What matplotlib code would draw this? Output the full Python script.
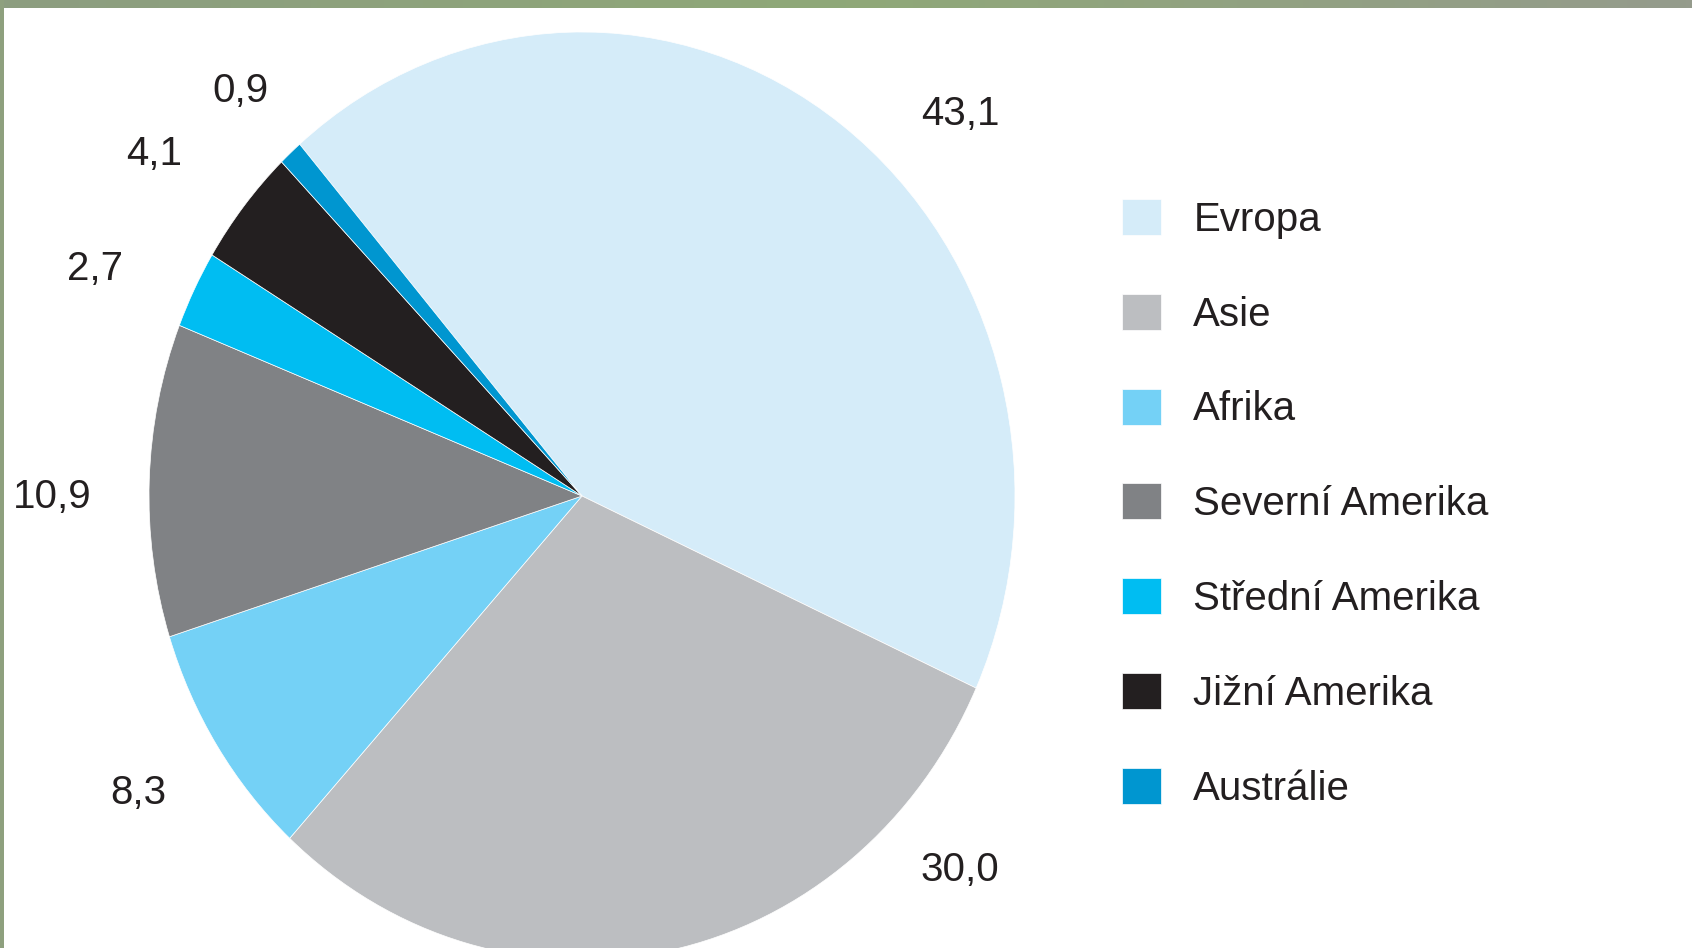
import numpy as np
import matplotlib.pyplot as plt
from matplotlib.patches import Rectangle
from matplotlib.colors import LinearSegmentedColormap

plt.rcParams['font.family'] = ['Liberation Sans', 'DejaVu Sans']

# data
regions = ['Evropa', 'Asie', 'Afrika', 'Severní Amerika', 'Střední Amerika',
           'Jižní Amerika', 'Austrálie']
shares = [43.1, 30.0, 8.3, 10.9, 2.7, 4.1, 0.9]
colors = ['#d5ecf9', '#bcbec1', '#74d1f6', '#808285', '#00bdf2', '#231f20', '#0096d0']

# where the value labels sit (pixels from top-left, baseline)
label_px = [(960, 125), (960, 881), (138, 804), (52, 508), (95, 280), (154, 165), (240, 102)]

W, H = 1692, 948
fig = plt.figure(figsize=(W / 100, H / 100), dpi=100)
fig.patch.set_facecolor('white')

# pie is slightly squeezed horizontally in the original
cx, cy, rx, ry = 582, 496, 433, 464
ax = fig.add_axes([(cx - rx) / W, (H - cy - ry) / H, 2 * rx / W, 2 * ry / H])
wedges, _ = ax.pie(shares, colors=colors, startangle=130.7, counterclock=False,
                   wedgeprops=dict(edgecolor='white', linewidth=0.5))
ax.set_aspect('auto')
ax.set_xlim(-1, 1)
ax.set_ylim(-1, 1)
ax.axis('off')

for val, (x, y) in zip(shares, label_px):
    fig.text(x / W, 1 - y / H, f'{val:.1f}'.replace('.', ','), fontsize=29,
             color='#231f20', ha='center', va='baseline')

leg = fig.legend(wedges, regions, loc='upper left', bbox_to_anchor=(1122 / W, 1 - 199 / H),
                 frameon=False, fontsize=29, handlelength=0.97, handleheight=1.0,
                 handletextpad=0.8, labelspacing=1.365, borderpad=0, borderaxespad=0)
for t in leg.get_texts():
    t.set_color('#231f20')

# green frame strips
bar = fig.add_axes([0, 1 - 8 / H, 1, 8 / H])
grad = np.linspace(0, 1, 256).reshape(1, -1)
cmap = LinearSegmentedColormap.from_list('strip', ['#8c9d80', '#8fa878', '#959b8c'])
bar.imshow(grad, aspect='auto', cmap=cmap)
bar.axis('off')
fig.patches.append(Rectangle((0, 0), 4 / W, 1, transform=fig.transFigure,
                             facecolor='#8ea07e', edgecolor='none'))

fig.savefig('out.png', dpi=100)
